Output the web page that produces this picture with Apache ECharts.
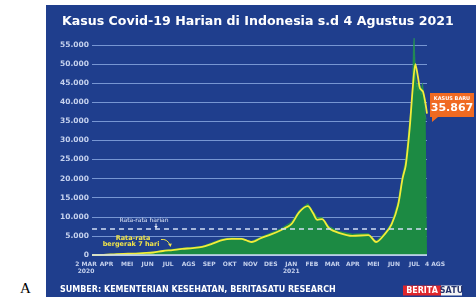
<!DOCTYPE html>
<html><head><meta charset="utf-8">
<script src="https://cdn.jsdelivr.net/npm/echarts@6/dist/echarts.min.js"></script>
<style>
html,body{margin:0;padding:0;background:#fff;width:476px;height:297px;overflow:hidden}
#panel{position:absolute;left:46px;top:5px;width:430px;height:292px;background:#1f3e8d}
#lbl{position:absolute;left:20px;top:280px;font:15px "Liberation Serif",serif;color:#000}
#chart{position:absolute;left:0;top:0;width:476px;height:297px}
</style></head>
<body>
<div id="panel"></div>
<div id="lbl">A</div>
<div id="chart"></div>
<script>
// 7-day moving average (Rata-rata bergerak 7 hari)
const avgDates = ['2020-03-02','2020-03-20','2020-04-05','2020-04-20','2020-05-05','2020-05-20','2020-06-05','2020-06-20','2020-07-05','2020-07-20','2020-08-05','2020-08-20','2020-09-05','2020-09-20','2020-10-05','2020-10-20','2020-10-28','2020-11-05','2020-11-20','2020-12-05','2020-12-20','2021-01-05','2021-01-18','2021-01-31','2021-02-08','2021-02-15','2021-02-22','2021-03-05','2021-03-20','2021-04-10','2021-05-05','2021-05-17','2021-06-01','2021-06-10','2021-06-20','2021-06-27','2021-07-02','2021-07-08','2021-07-13','2021-07-17','2021-07-21','2021-07-24','2021-07-29','2021-08-04'];
const avgValues = [0,50,180,300,350,500,650,1050,1300,1600,1800,2100,3000,3900,4200,4200,3800,3400,4500,5400,6500,8000,11300,12800,11000,9200,9400,7000,5800,5000,5200,3400,5800,8000,13000,20000,23500,33000,44000,50000,46600,43700,42700,37000];
// daily new cases (Kasus harian)
const dailyDates = ['2020-03-02','2020-03-20','2020-04-05','2020-04-20','2020-05-05','2020-05-20','2020-06-05','2020-06-20','2020-07-05','2020-07-20','2020-08-05','2020-08-20','2020-09-05','2020-09-20','2020-10-05','2020-10-20','2020-10-28','2020-11-05','2020-11-20','2020-12-05','2020-12-20','2021-01-05','2021-01-18','2021-01-31','2021-02-08','2021-02-15','2021-02-22','2021-03-05','2021-03-20','2021-04-10','2021-05-05','2021-05-17','2021-06-01','2021-06-10','2021-06-20','2021-06-27','2021-07-02','2021-07-08','2021-07-12','2021-07-13','2021-07-14','2021-07-15','2021-07-16','2021-07-17','2021-07-18','2021-07-19','2021-07-20','2021-07-21','2021-07-22','2021-07-23','2021-07-24','2021-07-25','2021-07-26','2021-07-27','2021-07-28','2021-07-29','2021-07-30','2021-07-31','2021-08-01','2021-08-02','2021-08-03','2021-08-04'];
const dailyValues = [2,80,220,350,400,600,750,1200,1500,1800,2000,2300,3300,4200,4500,4400,4000,3600,4800,5800,6900,8600,11800,13500,11500,9800,9900,7500,6200,5500,5600,3600,6100,8500,13900,21000,25000,35000,40400,47900,54500,56800,52000,49000,46000,44000,45000,43000,45500,46000,44500,43000,42000,44000,45000,43500,41600,39000,37000,36000,35500,35867];
const dailyAverage = 6800;
const yTicks = [0,5000,10000,15000,20000,25000,30000,35000,40000,45000,50000,55000];
const xLabels = ['2 MAR\n2020','APR','MEI','JUN','JUL','AGS','SEP','OKT','NOV','DES','JAN\n2021','FEB','MAR','APR','MEI','JUN','JUL','4 AGS'];
const titleText = 'Kasus Covid-19 Harian di Indonesia s.d 4 Agustus 2021';
const sourceText = 'SUMBER: KEMENTERIAN KESEHATAN, BERITASATU RESEARCH';
const lastValueText = '35.867';

const fmt = v => v === 0 ? '0' : String(v).replace(/\B(?=(\d{3})+(?!\d))/g, '.');
const F = '"DejaVu Sans", sans-serif';
const chart = echarts.init(document.getElementById('chart'), null, {renderer:'canvas'});
chart.setOption({
  backgroundColor: 'transparent',
  animation: false,
  title: {text: titleText, left: 62, top: 15, padding: 0, textStyle: {color:'#fff', fontFamily:F, fontWeight:'bold', fontSize:12.6}},
  grid: [
    {left: 92, right: 49, top: 45, bottom: 42},
    {left: 86, right: 41, top: 45, bottom: 42}
  ],
  xAxis: [
    {type:'time', gridIndex:0, min:'2020-03-02', max:'2021-08-04', axisLabel:{show:false}, axisTick:{show:false}, splitLine:{show:false}, axisLine:{show:false}},
    {type:'category', gridIndex:1, data:xLabels, boundaryGap:false, axisLine:{show:false}, axisTick:{show:false},
      axisLabel:{interval:0, color:'#c6d2ee', fontFamily:F, fontWeight:'bold', fontSize:6, lineHeight:7, margin:6}}
  ],
  yAxis: [
    {type:'value', gridIndex:0, min:0, max:55000, interval:5000,
      axisLabel:{color:'#c6d2ee', fontFamily:F, fontWeight:'bold', fontSize:7.5, margin:3, formatter: fmt},
      splitLine:{lineStyle:{color:'rgba(150,180,235,0.75)', width:1}},
      axisLine:{show:false}, axisTick:{show:false}},
    {type:'value', gridIndex:1, show:false, min:0, max:55000}
  ],
  series: [
    {type:'line', name:'Kasus harian', xAxisIndex:0, yAxisIndex:0, data: dailyDates.map((d,i)=>[d, dailyValues[i]]),
      showSymbol:false, clip:false, lineStyle:{width:0.6, color:'#2aa050'}, areaStyle:{color:'#1c8a43', opacity:1}, z:2},
    {type:'line', name:'Rata-rata bergerak 7 hari', xAxisIndex:0, yAxisIndex:0, data: avgDates.map((d,i)=>[d, avgValues[i]]),
      showSymbol:false, smooth:0.3, lineStyle:{width:1.8, color:'#f3ec3a'}, z:4,
      markLine:{silent:true, symbol:'none', label:{show:false},
        lineStyle:{color:'#d2def5', width:1.5, type:[5,4]},
        data:[{yAxis: dailyAverage}]}}
  ],
  graphic: [
    {type:'line', shape:{x1:92, y1:255, x2:427, y2:255}, style:{stroke:'#cfdcf3', lineWidth:1.5}, z:5},
    {type:'text', x:144, y:220, style:{text:'Rata-rata harian', fill:'#dfe6f5', font:'6px '+F, align:'center', verticalAlign:'middle'}, z:6},
    {type:'line', shape:{x1:156, y1:223.5, x2:156, y2:227.5}, style:{stroke:'#e6ecf8', lineWidth:1}, z:6},
    {type:'polygon', shape:{points:[[154.2,226],[157.8,226],[156,228.5]]}, style:{fill:'#e6ecf8'}, z:6},
    {type:'text', x:133, y:238, style:{text:'Rata-rata', fill:'#f0e44a', font:'bold 6.5px '+F, align:'center', verticalAlign:'middle'}, z:6},
    {type:'text', x:131, y:244.5, style:{text:'bergerak 7 hari', fill:'#f0e44a', font:'bold 6.5px '+F, align:'center', verticalAlign:'middle'}, z:6},
    {type:'bezierCurve', shape:{x1:161, y1:239.5, cpx1:167, cpy1:238.5, x2:170, y2:245}, style:{stroke:'#f0e44a', lineWidth:1, fill:null}, z:6},
    {type:'polygon', shape:{points:[[168.2,244],[171.8,243.5],[170.5,247]]}, style:{fill:'#f0e44a'}, z:6},
    {type:'polygon', shape:{points:[[430,93],[474,93],[474,117],[438,117],[432,122],[432,117],[430,117]]}, style:{fill:'#f06a22'}, z:7},
    {type:'text', x:452, y:98.5, style:{text:'KASUS BARU', fill:'#fff', font:'bold 5px '+F, align:'center', verticalAlign:'middle'}, z:8},
    {type:'text', x:452, y:108.5, style:{text:lastValueText, fill:'#fff', font:'bold 11px '+F, align:'center', verticalAlign:'middle'}, z:8},
    {type:'text', x:60, y:290, style:{text:sourceText, fill:'#fff', font:'bold 8px '+F, verticalAlign:'middle'}, z:6},
    {type:'rect', shape:{x:403, y:285.5, width:38, height:10}, style:{fill:'#e0262c'}, z:6},
    {type:'rect', shape:{x:441, y:285.5, width:21, height:10}, style:{fill:'#f4f4f4'}, z:6},
    {type:'text', x:422, y:290.7, style:{text:'BERITA', fill:'#fff', font:'bold 8px '+F, align:'center', verticalAlign:'middle'}, z:7},
    {type:'text', x:451.5, y:290.7, style:{text:'SATU', fill:'#26346e', font:'bold 8px '+F, align:'center', verticalAlign:'middle'}, z:7}
  ]
});
</script>
</body></html>
